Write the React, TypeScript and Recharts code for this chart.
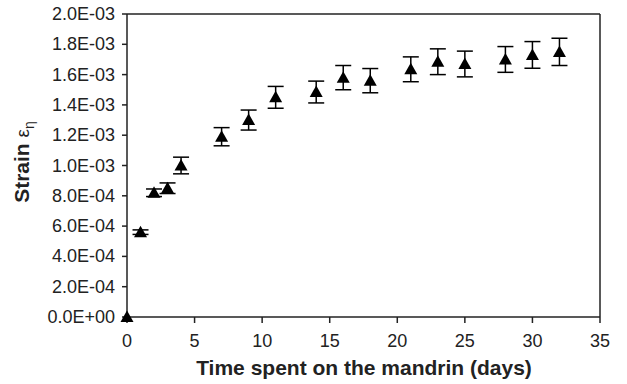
import React from 'react';
import { ScatterChart, Scatter, XAxis, YAxis, ErrorBar, ReferenceLine } from 'recharts';

const days = [0, 1, 2, 3, 4, 7, 9, 11, 14, 16, 18, 21, 23, 25, 28, 30, 32];
const strain = [0, 5.6e-4, 8.2e-4, 8.5e-4, 1.0e-3, 1.19e-3, 1.3e-3, 1.45e-3, 1.485e-3, 1.58e-3, 1.56e-3, 1.635e-3, 1.685e-3, 1.67e-3, 1.7e-3, 1.73e-3, 1.75e-3];
const strainErr = [0, 0.15e-4, 0.25e-4, 0.35e-4, 0.55e-4, 0.6e-4, 0.66e-4, 0.72e-4, 0.72e-4, 0.8e-4, 0.8e-4, 0.82e-4, 0.85e-4, 0.85e-4, 0.85e-4, 0.88e-4, 0.9e-4];

const xTicks = [0, 5, 10, 15, 20, 25, 30, 35];
const yTicks = [0, 0.0002, 0.0004, 0.0006, 0.0008, 0.001, 0.0012, 0.0014, 0.0016, 0.0018, 0.002];

const data = days.map((d, i) => ({ day: d, strain: strain[i], err: strainErr[i] }));

const ink = '#222';
const font = '"Liberation Sans", Arial, sans-serif';

// 2.0E-03 style
const sci = (v: number) => {
  if (v === 0) return '0.0E+00';
  const [m, e] = v.toExponential(1).split('e');
  const n = parseInt(e, 10);
  return `${m}E${n < 0 ? '-' : '+'}${String(Math.abs(n)).padStart(2, '0')}`;
};

const Triangle = (props: any) => {
  const { cx, cy } = props;
  if (cx == null || cy == null) return null;
  return <polygon points={`${cx - 6.5},${cy + 5} ${cx + 6.5},${cy + 5} ${cx},${cy - 6.5}`} fill="#000" />;
};

const XTick = (props: any) => {
  const { x, y, payload } = props;
  return (
    <text x={x} y={y + 15} textAnchor="middle" fontFamily={font} fontSize={18} fill={ink}>
      {payload.value}
    </text>
  );
};

const YTick = (props: any) => {
  const { x, y, payload } = props;
  return (
    <text x={x + 3} y={y + 6} textAnchor="end" fontFamily={font} fontSize={18} fill={ink}>
      {sci(payload.value)}
    </text>
  );
};

const App = () => (
  <div style={{ position: 'absolute', left: 0, top: 0, background: '#fff' }}>
    <ScatterChart width={627} height={384} margin={{ top: 14, right: 27, bottom: 0, left: 0 }}>
      <XAxis
        type="number"
        dataKey="day"
        domain={[0, 35]}
        ticks={xTicks}
        interval={0}
        height={67}
        tickSize={6}
        tickMargin={9}
        stroke={ink}
        strokeWidth={1.5}
        tick={<XTick />}
        label={{
          content: () => (
            <text x={364} y={375} textAnchor="middle" fontFamily={font} fontSize={21} fontWeight="bold" fill={ink}>
              Time spent on the mandrin (days)
            </text>
          ),
        }}
      />
      <YAxis
        type="number"
        dataKey="strain"
        domain={[0, 0.002]}
        ticks={yTicks}
        interval={0}
        width={127}
        tickSize={5}
        tickMargin={10}
        stroke={ink}
        strokeWidth={1.5}
        tick={<YTick />}
        label={{
          content: () => (
            <text x={29} y={162} transform="rotate(-90 29 162)" textAnchor="middle" fontFamily={font} fontSize={21} fill={ink}>
              <tspan fontWeight="bold">Strain </tspan>
              <tspan fontSize={19}>ε</tspan>
              <tspan fontSize={14} dy={5}>η</tspan>
            </text>
          ),
        }}
      />
      <ReferenceLine y={0.002} stroke={ink} strokeWidth={1.5} />
      <ReferenceLine x={35} stroke={ink} strokeWidth={1.5} />
      <Scatter data={data} shape={<Triangle />} isAnimationActive={false}>
        <ErrorBar dataKey="err" direction="y" width={8} stroke="#000" strokeWidth={1.5} isAnimationActive={false} />
      </Scatter>
    </ScatterChart>
  </div>
);

export default App;
